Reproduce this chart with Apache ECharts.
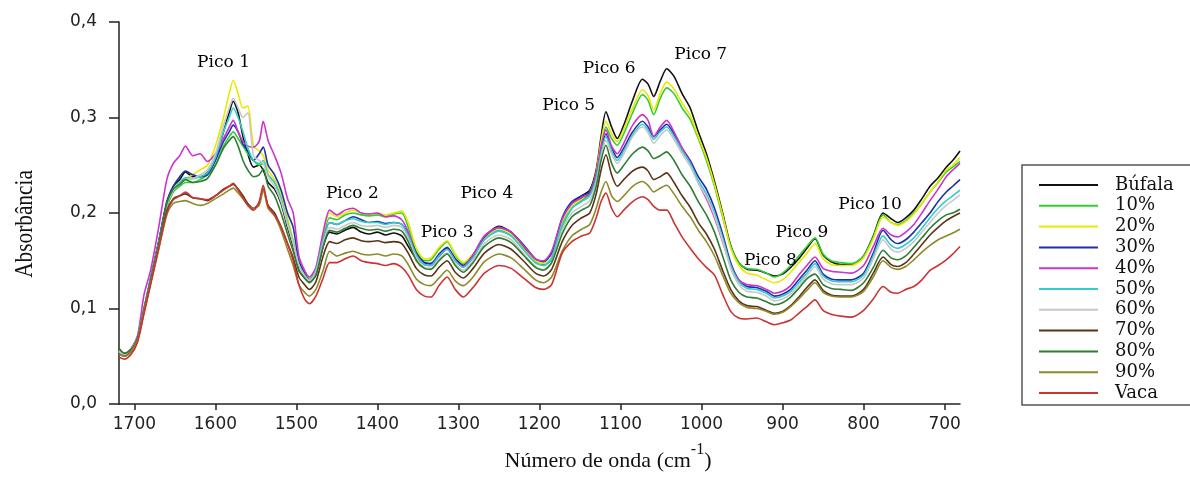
<!DOCTYPE html>
<html><head><meta charset="utf-8">
<script src="https://cdn.jsdelivr.net/npm/echarts@6/dist/echarts.min.js"></script>
<style>html,body{margin:0;padding:0;background:#fff}#c{width:1190px;height:480px}</style>
</head><body><div id="c"></div>
<script>
const wavenumbers = [1719,1712,1704,1696,1688,1680,1670,1660,1652,1644,
 1637,1628,1619,1610,1600,1590,1583,1578,1572,1566,
 1560,1553,1546,1541,1535,1527,1519,1511,1504,1497,
 1490,1484,1476,1467,1459,1450,1440,1430,1420,1410,
 1400,1390,1380,1370,1362,1352,1342,1334,1324,1314,
 1304,1294,1282,1268,1250,1235,1220,1205,1195,1185,
 1172,1160,1148,1138,1130,1124,1118,1111,1104,1096,
 1085,1073,1066,1059,1051,1043,1034,1024,1014,1004,
 994,984,974,964,954,944,932,920,910,900,
 890,880,870,860,850,840,828,815,800,788,
 776,766,758,748,738,728,718,708,698,690,
 681];

const bufala = [.058,.052,.058,.07,.1,.13,.17,.21,.228,.235,
 .243,.238,.238,.242,.256,.285,.305,.317,.305,.28,
 .262,.248,.25,.245,.232,.225,.21,.185,.165,.14,
 .132,.128,.135,.165,.18,.178,.182,.185,.18,.178,
 .18,.177,.179,.176,.165,.152,.148,.147,.155,.163,
 .152,.145,.155,.175,.186,.18,.165,.15,.146,.152,
 .19,.21,.218,.224,.245,.28,.306,.29,.278,.292,
 .318,.34,.335,.322,.338,.351,.343,.325,.31,.285,
 .262,.233,.2,.166,.148,.141,.14,.137,.134,.136,
 .143,.152,.163,.173,.156,.149,.146,.146,.155,.176,
 .2,.194,.19,.195,.203,.215,.228,.237,.248,.255,
 .265];
const p10 = [.056,.053,.057,.07,.1,.13,.168,.205,.222,.228,
 .232,.232,.235,.24,.25,.27,.28,.285,.278,.27,
 .262,.255,.25,.252,.24,.232,.215,.19,.168,.145,
 .135,.13,.14,.175,.195,.193,.198,.2,.198,.197,
 .198,.196,.199,.2,.185,.16,.15,.151,.162,.17,
 .156,.147,.156,.172,.182,.176,.162,.148,.145,.152,
 .185,.205,.213,.22,.24,.27,.29,.278,.271,.283,
 .305,.324,.318,.303,.32,.331,.325,.31,.298,.278,
 .255,.228,.196,.165,.148,.142,.141,.137,.133,.137,
 .145,.155,.165,.174,.157,.15,.148,.147,.155,.175,
 .198,.19,.188,.192,.2,.21,.222,.232,.243,.248,
 .254];
const p20 = [.056,.052,.057,.07,.1,.13,.168,.208,.225,.232,
 .236,.24,.245,.25,.27,.3,.325,.339,.325,.31,
 .312,.27,.265,.26,.245,.235,.22,.195,.172,.148,
 .137,.132,.142,.178,.2,.196,.2,.203,.2,.199,
 .2,.198,.2,.202,.19,.163,.152,.153,.164,.171,
 .157,.148,.157,.174,.184,.178,.163,.15,.147,.153,
 .19,.208,.215,.222,.242,.275,.296,.283,.275,.288,
 .31,.329,.323,.308,.325,.337,.33,.315,.302,.28,
 .258,.23,.198,.163,.145,.137,.135,.13,.127,.13,
 .138,.148,.158,.168,.152,.146,.145,.145,.153,.173,
 .196,.19,.187,.191,.199,.21,.222,.233,.245,.25,
 .258];
const p30 = [.055,.052,.057,.07,.1,.132,.17,.212,.228,.238,
 .244,.24,.238,.24,.255,.275,.285,.292,.285,.272,
 .265,.255,.262,.269,.25,.24,.224,.2,.185,.15,
 .137,.13,.14,.172,.19,.188,.192,.196,.193,.19,
 .191,.189,.19,.188,.178,.158,.148,.147,.157,.164,
 .152,.145,.156,.175,.185,.18,.167,.152,.149,.158,
 .195,.212,.218,.222,.24,.265,.283,.268,.258,.268,
 .285,.296,.29,.28,.287,.293,.283,.268,.255,.238,
 .225,.205,.178,.148,.13,.123,.122,.118,.113,.115,
 .12,.13,.14,.15,.136,.131,.13,.13,.137,.158,
 .182,.172,.168,.172,.18,.19,.2,.212,.222,.228,
 .235];
const p40 = [.056,.053,.058,.072,.115,.14,.185,.235,.252,.26,
 .27,.26,.262,.254,.262,.278,.29,.297,.285,.275,
 .27,.269,.275,.296,.276,.26,.242,.215,.2,.155,
 .14,.133,.143,.18,.203,.198,.203,.205,.2,.199,
 .2,.196,.197,.193,.18,.155,.146,.145,.155,.162,
 .15,.144,.156,.176,.185,.18,.166,.152,.15,.16,
 .194,.21,.216,.22,.24,.27,.287,.27,.262,.273,
 .292,.303,.297,.28,.29,.297,.285,.268,.253,.232,
 .215,.195,.17,.145,.13,.125,.124,.12,.116,.118,
 .124,.135,.145,.154,.142,.139,.138,.137,.145,.165,
 .184,.177,.175,.18,.188,.2,.213,.225,.238,.245,
 .252];
const p50 = [.055,.052,.057,.07,.1,.13,.168,.208,.225,.232,
 .237,.236,.238,.242,.258,.285,.3,.31,.3,.285,
 .268,.255,.252,.255,.24,.232,.215,.19,.17,.146,
 .135,.13,.14,.172,.19,.188,.192,.194,.191,.19,
 .19,.188,.19,.188,.176,.156,.146,.145,.155,.162,
 .15,.143,.153,.172,.181,.176,.162,.148,.145,.153,
 .188,.205,.212,.218,.236,.262,.28,.265,.255,.265,
 .282,.293,.287,.277,.285,.29,.28,.265,.252,.234,
 .22,.2,.174,.145,.128,.121,.12,.116,.111,.113,
 .118,.127,.137,.147,.134,.129,.128,.128,.135,.155,
 .176,.166,.163,.167,.174,.184,.195,.205,.213,.218,
 .224];
const p60 = [.055,.052,.057,.07,.1,.13,.168,.208,.224,.23,
 .235,.236,.24,.245,.262,.292,.31,.32,.31,.3,
 .305,.26,.255,.252,.238,.228,.212,.188,.168,.145,
 .134,.129,.138,.168,.185,.183,.187,.19,.187,.186,
 .187,.185,.187,.185,.173,.153,.143,.142,.152,.158,
 .147,.14,.15,.168,.177,.172,.158,.144,.141,.148,
 .182,.2,.207,.213,.232,.258,.276,.262,.252,.262,
 .28,.29,.284,.273,.281,.287,.277,.262,.249,.231,
 .217,.197,.171,.142,.125,.118,.117,.113,.108,.11,
 .115,.124,.134,.144,.131,.126,.125,.125,.132,.152,
 .172,.162,.159,.163,.17,.18,.19,.2,.208,.213,
 .219];
const p70 = [.052,.05,.055,.068,.097,.127,.165,.202,.215,.218,
 .22,.216,.215,.213,.218,.225,.228,.23,.225,.218,
 .21,.205,.21,.225,.208,.2,.185,.168,.153,.133,
 .125,.12,.128,.155,.17,.168,.172,.174,.171,.17,
 .171,.169,.17,.168,.158,.142,.135,.134,.143,.15,
 .138,.132,.142,.158,.167,.162,.15,.137,.134,.141,
 .17,.187,.195,.2,.22,.245,.261,.24,.228,.235,
 .244,.248,.244,.235,.238,.242,.232,.218,.206,.19,
 .178,.162,.14,.12,.108,.103,.102,.098,.095,.097,
 .103,.112,.122,.13,.119,.114,.113,.113,.12,.137,
 .154,.146,.144,.148,.157,.167,.177,.185,.192,.196,
 .2];
const p80 = [.058,.053,.057,.07,.1,.13,.168,.21,.225,.23,
 .235,.232,.233,.236,.25,.268,.276,.28,.27,.255,
 .245,.238,.24,.246,.228,.218,.2,.178,.16,.14,
 .132,.127,.135,.165,.182,.18,.184,.187,.184,.182,
 .183,.181,.183,.181,.17,.15,.142,.141,.15,.157,
 .145,.138,.148,.165,.174,.169,.156,.143,.14,.148,
 .178,.196,.203,.208,.228,.255,.271,.252,.242,.25,
 .262,.269,.265,.257,.26,.264,.255,.24,.228,.212,
 .198,.18,.155,.13,.117,.112,.111,.107,.104,.106,
 .112,.121,.131,.136,.125,.121,.12,.119,.127,.143,
 .161,.153,.151,.155,.164,.174,.184,.192,.198,.2,
 .204];
const p90 = [.052,.05,.055,.067,.097,.126,.163,.198,.21,.212,
 .213,.21,.208,.21,.215,.22,.224,.226,.221,.215,
 .208,.205,.208,.224,.205,.197,.182,.162,.145,.125,
 .117,.113,.12,.14,.16,.155,.158,.16,.157,.156,
 .157,.155,.157,.155,.146,.131,.125,.124,.132,.14,
 .129,.124,.133,.149,.157,.153,.142,.13,.127,.133,
 .16,.176,.183,.188,.205,.222,.233,.218,.212,.218,
 .228,.233,.229,.222,.226,.229,.22,.207,.196,.182,
 .17,.155,.135,.116,.106,.101,.1,.097,.094,.096,
 .102,.11,.119,.127,.117,.113,.112,.112,.118,.133,
 .15,.143,.141,.144,.151,.159,.166,.172,.176,.179,
 .183];
const vaca = [.049,.047,.052,.065,.095,.125,.162,.2,.214,.218,
 .222,.216,.215,.214,.218,.224,.228,.231,.224,.216,
 .208,.203,.212,.229,.207,.198,.186,.168,.15,.125,
 .11,.105,.113,.132,.148,.148,.152,.155,.15,.148,
 .147,.145,.147,.143,.135,.12,.113,.112,.124,.133,
 .12,.112,.122,.137,.145,.142,.132,.122,.12,.125,
 .158,.17,.176,.179,.195,.212,.221,.205,.196,.203,
 .212,.217,.214,.207,.203,.203,.19,.175,.163,.152,
 .143,.135,.115,.097,.09,.089,.09,.086,.083,.085,
 .088,.095,.102,.109,.098,.094,.092,.091,.098,.11,
 .123,.117,.116,.12,.123,.13,.14,.145,.151,.157,
 .165];

const seriesNames = ['Búfala','10%','20%','30%','40%','50%','60%','70%','80%','90%','Vaca'];
const seriesValues = [bufala,p10,p20,p30,p40,p50,p60,p70,p80,p90,vaca];
const seriesColors = ['#111111','#33cc33','#e8e800','#1f2fa8','#cc33cc','#33cccc','#c8c8c8','#5c3317','#2e7d32','#8b8b2a','#cc3333'];

const peakNames = ['Pico 1','Pico 2','Pico 3','Pico 4','Pico 5','Pico 6','Pico 7','Pico 8','Pico 9','Pico 10'];
const peakWn = [1590,1431,1314,1265,1164,1114,1001,915,876,792];
const peakAbs = [0.358,0.22,0.18,0.22,0.312,0.351,0.366,0.15,0.18,0.209];

const xTicks = [700,800,900,1000,1100,1200,1300,1400,1500,1600,1700];

const chart = echarts.init(document.getElementById('c'));
const axisColor = '#222';
const series = seriesNames.map((n, i) => ({
  name: n,
  type: 'line',
  data: wavenumbers.map((w, j) => [w, seriesValues[i][j]]),
  showSymbol: false,
  symbol: 'none',
  smooth: 0.25,
  lineStyle: { width: 1.6, color: seriesColors[i] },
  itemStyle: { color: seriesColors[i] },
  silent: true
}));
series[0].markPoint = {
  symbol: 'circle', symbolSize: 0, silent: true,
  label: { show: true, position: 'inside', formatter: '{b}', fontFamily: 'DejaVu Serif', fontSize: 17, color: '#000' },
  data: peakNames.map((n, i) => ({ name: n, coord: [peakWn[i], peakAbs[i]] }))
};

chart.setOption({
  animation: false,
  backgroundColor: '#fff',
  grid: { left: 119, right: 230, top: 22, bottom: 76 },
  xAxis: {
    type: 'value', min: 681, max: 1719, inverse: true,
    axisLine: { show: true, onZero: false, lineStyle: { color: axisColor, width: 1.5 } },
    axisTick: { show: true, length: 6, customValues: xTicks, lineStyle: { color: axisColor, width: 1.5 } },
    axisLabel: { customValues: xTicks, margin: 12, fontFamily: 'DejaVu Sans', fontSize: 17, color: '#222',
      formatter: v => String(v) },
    splitLine: { show: false }
  },
  yAxis: {
    type: 'value', min: 0, max: 0.4, interval: 0.1,
    axisLine: { show: true, onZero: false, lineStyle: { color: axisColor, width: 1.5 } },
    axisTick: { show: true, length: 10, lineStyle: { color: axisColor, width: 1.5 } },
    axisLabel: { margin: 22, fontFamily: 'DejaVu Sans', fontSize: 17, color: '#222',
      formatter: v => v.toFixed(1).replace('.', ',') },
    splitLine: { show: false }
  },
  legend: {
    orient: 'vertical', left: 1022, top: 165,
    padding: [9.6, 10, 1.3, 17], itemGap: 0, itemWidth: 59, itemHeight: 2, icon: 'rect',
    borderWidth: 0,
    textStyle: { fontFamily: 'DejaVu Serif', fontSize: 18, color: '#111', lineHeight: 20.8, padding: [0, 0, 0, 12] },
    data: seriesNames
  },
  graphic: [
    { type: 'rect', silent: true,
      shape: { x: 1022, y: 165, width: 220, height: 240 }, style: { fill: 'none', stroke: '#555', lineWidth: 1.5 } },
    { type: 'text', x: 25, y: 224, rotation: Math.PI / 2, scaleX: 0.82,
      style: { text: 'Absorbância', font: '26px "Liberation Serif"', fill: '#111', align: 'center', verticalAlign: 'middle' } },
    { type: 'text', x: 608, y: 457,
      style: { text: '{m|Número de onda (cm}{s|-1}{m|)}', fill: '#111', align: 'center', verticalAlign: 'middle',
        rich: {
          m: { fontFamily: 'Liberation Serif', fontSize: 22, lineHeight: 30, verticalAlign: 'bottom', fill: '#111' },
          s: { fontFamily: 'Liberation Serif', fontSize: 16, lineHeight: 16, verticalAlign: 'top', fill: '#111' }
        } } }
  ],
  series: series
});
</script>
</body></html>
